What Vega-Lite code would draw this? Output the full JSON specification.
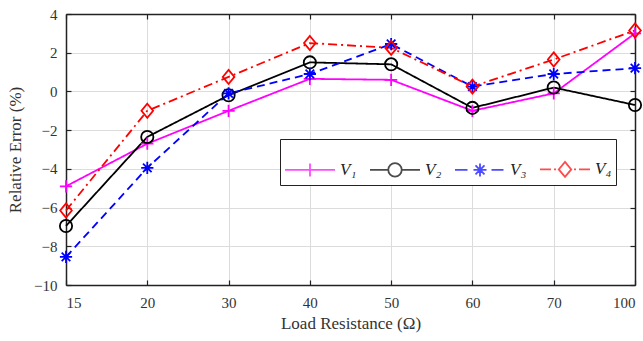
{
  "$schema": "https://vega.github.io/schema/vega-lite/v6.json",
  "width": 569,
  "height": 271,
  "autosize": {"type": "none"},
  "padding": {"left": 66, "top": 14, "right": 8, "bottom": 56},
  "background": "white",
  "config": {"view": {"stroke": null}, "font": "Liberation Serif"},
  "data": {
    "values": [
      {"R": 15, "series": "V₁", "err": -4.9},
      {"R": 20, "series": "V₁", "err": -2.7},
      {"R": 30, "series": "V₁", "err": -1.0},
      {"R": 40, "series": "V₁", "err": 0.65},
      {"R": 50, "series": "V₁", "err": 0.6},
      {"R": 60, "series": "V₁", "err": -1.0},
      {"R": 70, "series": "V₁", "err": -0.1},
      {"R": 100, "series": "V₁", "err": 3.0},
      {"R": 15, "series": "V₂", "err": -6.95},
      {"R": 20, "series": "V₂", "err": -2.35},
      {"R": 30, "series": "V₂", "err": -0.2},
      {"R": 40, "series": "V₂", "err": 1.5},
      {"R": 50, "series": "V₂", "err": 1.4},
      {"R": 60, "series": "V₂", "err": -0.85},
      {"R": 70, "series": "V₂", "err": 0.2},
      {"R": 100, "series": "V₂", "err": -0.7},
      {"R": 15, "series": "V₃", "err": -8.55},
      {"R": 20, "series": "V₃", "err": -3.95},
      {"R": 30, "series": "V₃", "err": -0.1},
      {"R": 40, "series": "V₃", "err": 0.9},
      {"R": 50, "series": "V₃", "err": 2.45},
      {"R": 60, "series": "V₃", "err": 0.25},
      {"R": 70, "series": "V₃", "err": 0.9},
      {"R": 100, "series": "V₃", "err": 1.2},
      {"R": 15, "series": "V₄", "err": -6.15},
      {"R": 20, "series": "V₄", "err": -1.0},
      {"R": 30, "series": "V₄", "err": 0.75},
      {"R": 40, "series": "V₄", "err": 2.5},
      {"R": 50, "series": "V₄", "err": 2.25},
      {"R": 60, "series": "V₄", "err": 0.25},
      {"R": 70, "series": "V₄", "err": 1.65},
      {"R": 100, "series": "V₄", "err": 3.15}
    ]
  },
  "layer": [
    {
      "mark": {"type": "line", "strokeWidth": 1.8},
      "encoding": {
        "x": {
          "field": "R", "type": "ordinal",
          "scale": {"type": "point", "padding": 0},
          "axis": {
            "orient": "bottom", "title": "Load Resistance (Ω)", "labelAngle": 0,
            "labelFont": "Liberation Serif", "labelFontSize": 15, "labelColor": "#333",
            "labelPadding": 15, "labelFlush": true, "tickSize": -5, "tickColor": "#222", "tickWidth": 1.2,
            "domainColor": "#222", "domainWidth": 1.5, "grid": true, "gridColor": "#dcdcdc", "gridWidth": 1,
            "titleFont": "Liberation Serif", "titleFontSize": 17, "titleFontWeight": "normal",
            "titleColor": "#333", "titlePadding": 5
          }
        },
        "y": {
          "field": "err", "type": "quantitative",
          "scale": {"domain": [-10, 4], "nice": false, "zero": false},
          "axis": {
            "orient": "left", "values": [-10, -8, -6, -4, -2, 0, 2, 4], "title": "Relative Error (%)",
            "labelFont": "Liberation Serif", "labelFontSize": 15, "labelColor": "#333",
            "labelPadding": 14, "tickSize": -5, "tickColor": "#222", "tickWidth": 1.2,
            "domainColor": "#222", "domainWidth": 1.5, "grid": true, "gridColor": "#dcdcdc", "gridWidth": 1,
            "titleFont": "Liberation Serif", "titleFontSize": 17, "titleFontWeight": "normal",
            "titleColor": "#333", "titlePadding": 9
          }
        },
        "color": {
          "field": "series", "type": "nominal",
          "scale": {"domain": ["V₁", "V₂", "V₃", "V₄"], "range": ["#ff00ff", "#000000", "#0000ff", "#ff0000"]},
          "legend": null
        },
        "strokeDash": {
          "field": "series", "type": "nominal",
          "scale": {"domain": ["V₁", "V₂", "V₃", "V₄"], "range": [[1, 0], [1, 0], [8, 5], [9, 4, 2, 4]]},
          "legend": null
        }
      }
    },
    {
      "mark": {"type": "point", "filled": false, "size": 150, "strokeWidth": 1.8, "opacity": 1},
      "encoding": {
        "x": {
          "field": "R", "type": "ordinal",
          "scale": {"type": "point", "padding": 0},
          "axis": {"orient": "top", "labels": false, "title": null, "grid": false, "tickSize": -5,
            "tickColor": "#222", "tickWidth": 1.2, "domainColor": "#222", "domainWidth": 1.5}
        },
        "y": {
          "field": "err", "type": "quantitative",
          "scale": {"domain": [-10, 4], "nice": false, "zero": false},
          "axis": {"orient": "right", "values": [-10, -8, -6, -4, -2, 0, 2, 4], "labels": false, "title": null,
            "grid": false, "tickSize": -5, "tickColor": "#222", "tickWidth": 1.2, "domainColor": "#222", "domainWidth": 1.5}
        },
        "color": {
          "field": "series", "type": "nominal",
          "scale": {"domain": ["V₁", "V₂", "V₃", "V₄"], "range": ["#ff00ff", "#000000", "#0000ff", "#ff0000"]},
          "legend": null
        },
        "shape": {
          "field": "series", "type": "nominal",
          "scale": {
            "domain": ["V₁", "V₂", "V₃", "V₄"],
            "range": [
              "M-1,0L1,0M0,-1L0,1",
              "circle",
              "M-1,0L1,0M0,-1L0,1M-0.7,-0.7L0.7,0.7M-0.7,0.7L0.7,-0.7",
              "M0,-1.15L0.95,0L0,1.15L-0.95,0Z"
            ]
          },
          "legend": null
        }
      }
    },
    {
      "transform": [{"filter": "false"}],
      "mark": {"type": "point", "filled": false, "size": 2500, "strokeWidth": 1.8},
      "encoding": {
        "color": {
          "field": "series", "type": "nominal",
          "scale": {"domain": ["V₁", "V₂", "V₃", "V₄"], "range": ["#ff00ff", "#000000", "#0000ff", "#ff0000"]},
          "legend": {
            "orient": "none", "legendX": 214, "legendY": 125, "direction": "horizontal", "columns": 4,
            "title": null, "labelFont": "Liberation Serif", "labelFontStyle": "italic", "labelFontSize": 17,
            "labelColor": "#222", "symbolSize": 2500, "symbolStrokeWidth": 1.8, "labelOffset": 4,
            "columnPadding": 9, "padding": 4, "strokeColor": "#222", "fillColor": "white"
          }
        },
        "shape": {
          "field": "series", "type": "nominal",
          "scale": {
            "domain": ["V₁", "V₂", "V₃", "V₄"],
            "range": [
              "M-1,0L1,0M0,-0.26L0,0.26",
              "M-1,0L-0.27,0M0.27,0L1,0M0.27,0A0.27,0.27,0,1,1,-0.27,0A0.27,0.27,0,1,1,0.27,0",
              "M-1,0L-0.5,0M0.46,0L0.94,0M-0.26,0L0.26,0M0,-0.26L0,0.26M-0.18,-0.18L0.18,0.18M-0.18,0.18L0.18,-0.18",
              "M-1,0L-0.56,0M-0.44,0L-0.36,0M0,-0.3L0.25,0L0,0.3L-0.25,0ZM0.36,0L0.44,0M0.56,0L1,0"
            ]
          },
          "legend": {
            "orient": "none", "legendX": 214, "legendY": 125, "direction": "horizontal", "columns": 4,
            "title": null, "labelFont": "Liberation Serif", "labelFontStyle": "italic", "labelFontSize": 17,
            "labelColor": "#222", "symbolSize": 2500, "symbolStrokeWidth": 1.8, "labelOffset": 4,
            "columnPadding": 9, "padding": 4, "strokeColor": "#222", "fillColor": "white"
          }
        }
      }
    }
  ],
  "resolve": {
    "scale": {"color": "independent", "shape": "independent", "strokeDash": "independent"},
    "axis": {"x": "independent", "y": "independent"},
    "legend": {"color": "independent", "shape": "independent"}
  }
}
